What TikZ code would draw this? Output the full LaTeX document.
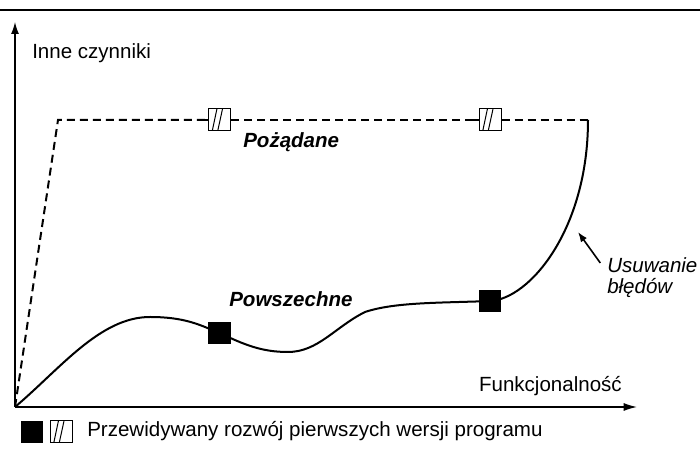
\documentclass[tikz,border=0pt]{standalone}
\usepackage{fontspec}
\setmainfont{Liberation Sans}
\usetikzlibrary{arrows.meta, positioning}

\begin{document}
\begin{tikzpicture}[x=0.75pt,y=0.75pt,
	every node/.style={font=\fontsize{15.4}{15.75}\selectfont, inner sep=0pt},
	axis/.style={line width=1pt},
	curve/.style={line width=1.5pt},
	plan/.style={line width=1.5pt, dash pattern=on 6pt off 3.75pt},
	release/.style={fill=black, minimum width=17pt, minimum height=16pt},
	hatch/.style={draw, fill=white, line width=0.75pt, minimum width=16.5pt, minimum height=16.5pt,
		path picture={\draw[line width=0.75pt]
			([xshift=2.8pt]path picture bounding box.south west) -- ([xshift=6.3pt]path picture bounding box.north west)
			([xshift=6.9pt]path picture bounding box.south west) -- ([xshift=10.5pt]path picture bounding box.north west);}},
	label/.style={font=\fontsize{15.4}{15.75}\selectfont\bfseries\itshape}]
	\useasboundingbox (0,0) rectangle (700,449);
	\draw[line width=2pt] (0,439) -- (700,439);

	% axes
	\coordinate (o) at (15,42);
	\coordinate (ytop) at (15,427);
	\coordinate (xend) at (637,42);
	\draw[axis,-{Latex[length=9pt,width=6pt]}] (o) -- (ytop);
	\draw[axis,-{Latex[length=10pt,width=6pt]}] (o) -- (xend);
	\node[anchor=base west] (yl) at (32,390) {Inne czynniki};
	\node[anchor=base east] (xl) at (622,57) {Funkcjonalność};

	% planned
	\coordinate (d1) at (58,329);
	\coordinate (d2) at (588,329);
	\node[hatch] (h1) at (219.5,329) {};
	\node[hatch] (h2) at (490,329) {};
	\draw[plan] (o) -- (d1) -- (h1.west);
	\draw[plan] (h1.east) -- (h2.west);
	\draw[plan] (h2.east) -- (d2);
	\draw[curve] (h1.west) -- +(-7,0) (h1.east) -- +(7,0);
	\draw[curve] (h2.west) -- +(-7,0) (h2.east) -- +(7,0);
	\node[label,anchor=base west] (want) at (243,301) {Pożądane};

	% actual
	\coordinate (c1) at (219.5,116);
	\coordinate (c2) at (490,148);
	\draw[curve] (o) .. controls (60,80) and (100,132) .. (150,132)
		.. controls (185,132) and (200,124) .. (c1)
		.. controls (245,104) and (262,97) .. (288,97)
		.. controls (318,97) and (335,122) .. (365,137)
		.. controls (395,147) and (440,146) .. (c2)
		.. controls (530,150) and (588,220) .. (d2);
	\node[release] (s1) at (c1) {};
	\node[release] (s2) at (c2) {};
	\node[label,anchor=base west] (real) at (229,142) {Powszechne};

	% bug fixing
	\node[anchor=north west,align=left,font=\fontsize{15.4}{15.75}\selectfont\itshape] (fix) at (607,192) {Usuwanie\\błędów};
	\coordinate (bug) at (578,217);
	\draw[line width=1.2pt,-{Latex[length=7.5pt,width=5.5pt]}] ([xshift=-5pt,yshift=-4.5pt]fix.north west) -- (bug);

	% legend
	\node[release] (k1) at (32,17) {};
	\node[hatch] (k2) at (61,17) {};
	\node[anchor=base west] (kt) at (87,12) {Przewidywany rozwój pierwszych wersji programu};
\end{tikzpicture}
\end{document}
